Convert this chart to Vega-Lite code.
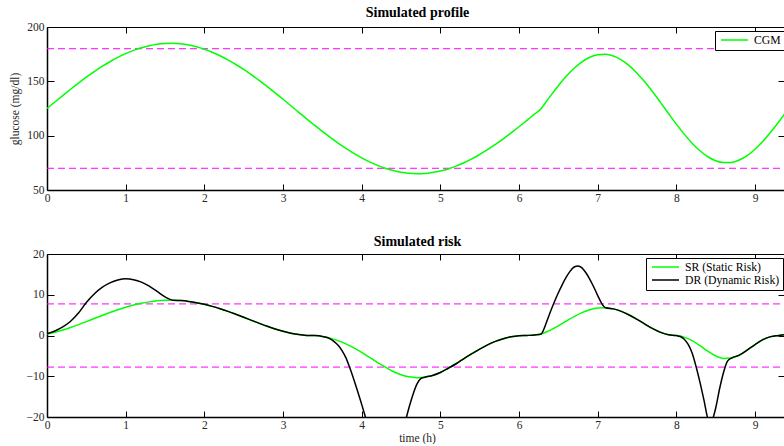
{
  "$schema": "https://vega.github.io/schema/vega-lite/v6.json",
  "background": "white",
  "padding": {"left": 9, "top": 6, "right": 0, "bottom": 0},
  "config": {
    "view": {"stroke": null},
    "font": "Liberation Serif",
    "axis": {
      "grid": false,
      "labelFont": "Liberation Serif",
      "labelFontSize": 11.5,
      "labelColor": "#262626",
      "labelFlush": false,
      "labelOverlap": false,
      "labelBound": false,
      "tickColor": "black",
      "tickWidth": 1,
      "domainColor": "black",
      "titleFont": "Liberation Serif",
      "titleFontSize": 11.5,
      "titleFontWeight": "normal",
      "titleColor": "#262626"
    },
    "legend": {
      "orient": "none",
      "title": null,
      "symbolType": "M-2.7,0H2.7",
      "symbolSize": 100,
      "symbolOffset": 10.5,
      "symbolStrokeWidth": 1.5,
      "labelFont": "Liberation Serif",
      "labelFontSize": 11.7,
      "labelColor": "black",
      "labelOffset": 13.5,
      "strokeColor": "black",
      "fillColor": "white",
      "padding": 3,
      "rowPadding": 0
    }
  },
  "datasets": {
    "cgm": [
      {"t": 0, "g": 125.0}, {"t": 0.1, "g": 131.0}, {"t": 0.2, "g": 136.9}, {"t": 0.3, "g": 142.7}, {"t": 0.4, "g": 148.4},
      {"t": 0.5, "g": 153.8}, {"t": 0.6, "g": 158.9}, {"t": 0.7, "g": 163.7}, {"t": 0.8, "g": 168.0}, {"t": 0.9, "g": 172.0},
      {"t": 1.0, "g": 175.5}, {"t": 1.1, "g": 178.5}, {"t": 1.2, "g": 180.9}, {"t": 1.3, "g": 182.8}, {"t": 1.4, "g": 184.1},
      {"t": 1.5, "g": 184.8}, {"t": 1.6, "g": 185.0}, {"t": 1.7, "g": 184.5}, {"t": 1.8, "g": 183.4}, {"t": 1.9, "g": 181.8},
      {"t": 2.0, "g": 179.6}, {"t": 2.1, "g": 176.8}, {"t": 2.2, "g": 173.5}, {"t": 2.3, "g": 169.7}, {"t": 2.4, "g": 165.5},
      {"t": 2.5, "g": 160.9}, {"t": 2.6, "g": 155.9}, {"t": 2.7, "g": 150.6}, {"t": 2.8, "g": 145.1}, {"t": 2.9, "g": 139.4},
      {"t": 3.0, "g": 133.5}, {"t": 3.1, "g": 127.5}, {"t": 3.2, "g": 121.5}, {"t": 3.3, "g": 115.5}, {"t": 3.4, "g": 109.7},
      {"t": 3.5, "g": 104.0}, {"t": 3.6, "g": 98.4}, {"t": 3.7, "g": 93.2}, {"t": 3.8, "g": 88.3}, {"t": 3.9, "g": 83.7},
      {"t": 4.0, "g": 79.6}, {"t": 4.1, "g": 75.9}, {"t": 4.2, "g": 72.7}, {"t": 4.3, "g": 70.0}, {"t": 4.4, "g": 67.9},
      {"t": 4.5, "g": 66.3}, {"t": 4.6, "g": 65.4}, {"t": 4.7, "g": 65.0}, {"t": 4.8, "g": 65.2}, {"t": 4.9, "g": 66.1},
      {"t": 5.0, "g": 67.5}, {"t": 5.1, "g": 69.4}, {"t": 5.2, "g": 72.0}, {"t": 5.3, "g": 75.1}, {"t": 5.4, "g": 78.6},
      {"t": 5.5, "g": 82.7}, {"t": 5.6, "g": 87.1}, {"t": 5.7, "g": 92.0}, {"t": 5.8, "g": 97.1}, {"t": 5.9, "g": 102.6},
      {"t": 6.0, "g": 108.2}, {"t": 6.1, "g": 114.1}, {"t": 6.2, "g": 120.0}, {"t": 6.283, "g": 125.0}, {"t": 6.3, "g": 126.7},
      {"t": 6.4, "g": 136.6}, {"t": 6.5, "g": 146.0}, {"t": 6.6, "g": 154.6}, {"t": 6.7, "g": 162.0}, {"t": 6.8, "g": 168.0},
      {"t": 6.9, "g": 172.2}, {"t": 7.0, "g": 174.5}, {"t": 7.1, "g": 174.9}, {"t": 7.2, "g": 173.3}, {"t": 7.3, "g": 169.8},
      {"t": 7.4, "g": 164.4}, {"t": 7.5, "g": 157.5}, {"t": 7.6, "g": 149.3}, {"t": 7.7, "g": 140.2}, {"t": 7.8, "g": 130.4},
      {"t": 7.9, "g": 120.4}, {"t": 8.0, "g": 110.6}, {"t": 8.1, "g": 101.4}, {"t": 8.2, "g": 93.1}, {"t": 8.3, "g": 86.1},
      {"t": 8.4, "g": 80.6}, {"t": 8.5, "g": 76.9}, {"t": 8.6, "g": 75.2}, {"t": 8.7, "g": 75.4}, {"t": 8.8, "g": 77.6},
      {"t": 8.9, "g": 81.6}, {"t": 9.0, "g": 87.5}, {"t": 9.1, "g": 94.8}, {"t": 9.2, "g": 103.3}, {"t": 9.3, "g": 112.6},
      {"t": 9.4, "g": 122.5}
    ],
    "sr": [
      {"t": 0, "r": 0.39}, {"t": 0.1, "r": 0.81}, {"t": 0.2, "r": 1.35}, {"t": 0.3, "r": 1.98}, {"t": 0.4, "r": 2.68},
      {"t": 0.5, "r": 3.41}, {"t": 0.6, "r": 4.17}, {"t": 0.7, "r": 4.91}, {"t": 0.8, "r": 5.63}, {"t": 0.9, "r": 6.31},
      {"t": 1.0, "r": 6.92}, {"t": 1.1, "r": 7.46}, {"t": 1.2, "r": 7.90}, {"t": 1.3, "r": 8.25}, {"t": 1.4, "r": 8.50},
      {"t": 1.5, "r": 8.63}, {"t": 1.6, "r": 8.66}, {"t": 1.7, "r": 8.57}, {"t": 1.8, "r": 8.37}, {"t": 1.9, "r": 8.06},
      {"t": 2.0, "r": 7.65}, {"t": 2.1, "r": 7.15}, {"t": 2.2, "r": 6.57}, {"t": 2.3, "r": 5.92}, {"t": 2.4, "r": 5.21},
      {"t": 2.5, "r": 4.48}, {"t": 2.6, "r": 3.72}, {"t": 2.7, "r": 2.98}, {"t": 2.8, "r": 2.26}, {"t": 2.9, "r": 1.60},
      {"t": 3.0, "r": 1.02}, {"t": 3.1, "r": 0.56}, {"t": 3.2, "r": 0.22}, {"t": 3.3, "r": 0.03}, {"t": 3.4, "r": -0.03},
      {"t": 3.5, "r": -0.23}, {"t": 3.6, "r": -0.64}, {"t": 3.7, "r": -1.25}, {"t": 3.8, "r": -2.06}, {"t": 3.9, "r": -3.05},
      {"t": 4.0, "r": -4.15}, {"t": 4.1, "r": -5.37}, {"t": 4.2, "r": -6.63}, {"t": 4.3, "r": -7.74}, {"t": 4.4, "r": -8.84},
      {"t": 4.5, "r": -9.65}, {"t": 4.6, "r": -10.15}, {"t": 4.7, "r": -10.35}, {"t": 4.8, "r": -10.23}, {"t": 4.9, "r": -9.80},
      {"t": 5.0, "r": -9.07}, {"t": 5.1, "r": -8.04}, {"t": 5.2, "r": -6.93}, {"t": 5.3, "r": -5.65}, {"t": 5.4, "r": -4.47},
      {"t": 5.5, "r": -3.32}, {"t": 5.6, "r": -2.30}, {"t": 5.7, "r": -1.44}, {"t": 5.8, "r": -0.78}, {"t": 5.9, "r": -0.32},
      {"t": 6.0, "r": -0.07}, {"t": 6.1, "r": 0.01}, {"t": 6.2, "r": 0.14}, {"t": 6.283, "r": 0.39}, {"t": 6.3, "r": 0.50},
      {"t": 6.4, "r": 1.32}, {"t": 6.5, "r": 2.38}, {"t": 6.6, "r": 3.53}, {"t": 6.7, "r": 4.65}, {"t": 6.8, "r": 5.62},
      {"t": 6.9, "r": 6.34}, {"t": 7.0, "r": 6.75}, {"t": 7.1, "r": 6.81}, {"t": 7.2, "r": 6.53}, {"t": 7.3, "r": 5.92},
      {"t": 7.4, "r": 5.03}, {"t": 7.5, "r": 3.96}, {"t": 7.6, "r": 2.80}, {"t": 7.7, "r": 1.69}, {"t": 7.8, "r": 0.76},
      {"t": 7.9, "r": 0.16}, {"t": 8.0, "r": -0.01}, {"t": 8.1, "r": -0.40}, {"t": 8.2, "r": -1.27}, {"t": 8.3, "r": -2.50},
      {"t": 8.4, "r": -3.85}, {"t": 8.5, "r": -5.03}, {"t": 8.6, "r": -5.62}, {"t": 8.7, "r": -5.55}, {"t": 8.8, "r": -4.83},
      {"t": 8.9, "r": -3.59}, {"t": 9.0, "r": -2.23}, {"t": 9.1, "r": -1.02}, {"t": 9.2, "r": -0.28}, {"t": 9.3, "r": 0.00},
      {"t": 9.4, "r": 0.27}
    ],
    "dr": [
      {"t": 0, "r": 0.39}, {"t": 0.1, "r": 1.1}, {"t": 0.2, "r": 2.1}, {"t": 0.3, "r": 3.5}, {"t": 0.4, "r": 5.5},
      {"t": 0.5, "r": 8.1}, {"t": 0.6, "r": 10.2}, {"t": 0.7, "r": 11.8}, {"t": 0.8, "r": 12.9}, {"t": 0.9, "r": 13.6},
      {"t": 1.0, "r": 13.9}, {"t": 1.1, "r": 13.7}, {"t": 1.2, "r": 13.1}, {"t": 1.3, "r": 12.1}, {"t": 1.4, "r": 10.8},
      {"t": 1.5, "r": 9.5}, {"t": 1.55, "r": 9.0}, {"t": 1.6, "r": 8.66}, {"t": 1.7, "r": 8.57}, {"t": 1.8, "r": 8.37},
      {"t": 1.9, "r": 8.06}, {"t": 2.0, "r": 7.65}, {"t": 2.1, "r": 7.15}, {"t": 2.2, "r": 6.57}, {"t": 2.3, "r": 5.92},
      {"t": 2.4, "r": 5.21}, {"t": 2.5, "r": 4.48}, {"t": 2.6, "r": 3.72}, {"t": 2.7, "r": 2.98}, {"t": 2.8, "r": 2.26},
      {"t": 2.9, "r": 1.60}, {"t": 3.0, "r": 1.02}, {"t": 3.1, "r": 0.56}, {"t": 3.2, "r": 0.22}, {"t": 3.3, "r": 0.03},
      {"t": 3.4, "r": -0.03}, {"t": 3.5, "r": -0.23}, {"t": 3.55, "r": -0.45}, {"t": 3.6, "r": -0.85}, {"t": 3.65, "r": -1.5},
      {"t": 3.7, "r": -2.4}, {"t": 3.75, "r": -3.7}, {"t": 3.8, "r": -5.5}, {"t": 3.85, "r": -8.0}, {"t": 3.9, "r": -10.8},
      {"t": 3.95, "r": -13.8}, {"t": 4.0, "r": -16.9}, {"t": 4.05, "r": -20.2}, {"t": 4.1, "r": -23.5}, {"t": 4.2, "r": -29.5},
      {"t": 4.3, "r": -33.0}, {"t": 4.4, "r": -32.0}, {"t": 4.5, "r": -25.5}, {"t": 4.55, "r": -21.5}, {"t": 4.6, "r": -17.8},
      {"t": 4.65, "r": -14.6}, {"t": 4.7, "r": -12.0}, {"t": 4.75, "r": -10.6}, {"t": 4.8, "r": -10.23}, {"t": 4.9, "r": -9.80},
      {"t": 5.0, "r": -9.07}, {"t": 5.1, "r": -8.04}, {"t": 5.2, "r": -6.93}, {"t": 5.3, "r": -5.65}, {"t": 5.4, "r": -4.47},
      {"t": 5.5, "r": -3.32}, {"t": 5.6, "r": -2.30}, {"t": 5.7, "r": -1.44}, {"t": 5.8, "r": -0.78}, {"t": 5.9, "r": -0.32},
      {"t": 6.0, "r": -0.07}, {"t": 6.1, "r": 0.01}, {"t": 6.2, "r": 0.14}, {"t": 6.283, "r": 0.39}, {"t": 6.3, "r": 0.9},
      {"t": 6.35, "r": 3.3}, {"t": 6.4, "r": 5.9}, {"t": 6.45, "r": 8.3}, {"t": 6.5, "r": 10.5}, {"t": 6.55, "r": 12.5},
      {"t": 6.6, "r": 14.3}, {"t": 6.65, "r": 15.8}, {"t": 6.7, "r": 16.8}, {"t": 6.75, "r": 17.05}, {"t": 6.8, "r": 16.6},
      {"t": 6.85, "r": 15.4}, {"t": 6.9, "r": 13.8}, {"t": 6.95, "r": 11.9}, {"t": 7.0, "r": 9.8}, {"t": 7.05, "r": 7.9},
      {"t": 7.1, "r": 6.81}, {"t": 7.2, "r": 6.53}, {"t": 7.3, "r": 5.92}, {"t": 7.4, "r": 5.03}, {"t": 7.5, "r": 3.96},
      {"t": 7.6, "r": 2.80}, {"t": 7.7, "r": 1.69}, {"t": 7.8, "r": 0.76}, {"t": 7.9, "r": 0.16}, {"t": 8.0, "r": -0.01},
      {"t": 8.05, "r": -0.25}, {"t": 8.1, "r": -0.9}, {"t": 8.15, "r": -2.2}, {"t": 8.2, "r": -4.3}, {"t": 8.25, "r": -7.6},
      {"t": 8.3, "r": -11.5}, {"t": 8.35, "r": -15.8}, {"t": 8.4, "r": -20.4}, {"t": 8.43, "r": -21.5}, {"t": 8.46, "r": -20.6},
      {"t": 8.5, "r": -17.8}, {"t": 8.55, "r": -13.0}, {"t": 8.6, "r": -9.0}, {"t": 8.65, "r": -6.3}, {"t": 8.7, "r": -5.55},
      {"t": 8.8, "r": -4.83}, {"t": 8.9, "r": -3.59}, {"t": 9.0, "r": -2.23}, {"t": 9.1, "r": -1.02}, {"t": 9.2, "r": -0.28},
      {"t": 9.3, "r": 0.00}, {"t": 9.4, "r": 0.27}
    ],
    "glim": [{"g": 70}, {"g": 180}],
    "rlim": [{"r": -7.75}, {"r": 7.75}]
  },
  "vconcat": [
    {
      "width": 737,
      "height": 163,
      "title": {"text": "Simulated profile", "font": "Liberation Serif", "fontSize": 14, "fontWeight": "bold", "color": "black", "baseline": "alphabetic", "offset": -10, "frame": "group", "dx": 2},
      "layer": [
        {
          "data": {"name": "glim"},
          "mark": {"type": "rule", "color": "#ff00ff", "strokeWidth": 1, "strokeDash": [7, 4], "clip": true},
          "encoding": {
            "x": {"datum": 0, "type": "quantitative", "scale": {"domain": [0, 9.368], "nice": false, "zero": false},
                  "axis": {"orient": "top", "values": [0, 1, 2, 3, 4, 5, 6, 7, 8, 9], "labels": false, "tickSize": -6, "domainWidth": 1, "title": null, "minExtent": 0, "maxExtent": 0}},
            "x2": {"datum": 10},
            "y": {"field": "g", "type": "quantitative", "scale": {"domain": [50, 200], "nice": false, "zero": false},
                  "axis": {"orient": "right", "values": [50, 100, 150, 200], "labels": false, "domain": false, "tickSize": -6, "title": null, "minExtent": 0, "maxExtent": 0}}
          }
        },
        {
          "data": {"name": "cgm"},
          "mark": {"type": "line", "strokeWidth": 1.5, "interpolate": "monotone", "clip": true},
          "encoding": {
            "x": {"field": "t", "type": "quantitative", "scale": {"domain": [0, 9.368], "nice": false, "zero": false},
                  "axis": {"orient": "bottom", "values": [0, 1, 2, 3, 4, 5, 6, 7, 8, 9], "tickSize": -6, "labelPadding": 8, "domainWidth": 1.5, "title": null}},
            "y": {"field": "g", "type": "quantitative", "scale": {"domain": [50, 200], "nice": false, "zero": false},
                  "axis": {"orient": "left", "values": [50, 100, 150, 200], "tickSize": -7, "labelPadding": 10, "domainWidth": 1.5,
                           "title": "glucose (mg/dl)", "titleX": -32, "titleY": 81.5, "titleBaseline": "middle", "titleAlign": "center", "titleAngle": 270}},
            "color": {"datum": "CGM", "type": "nominal", "scale": {"domain": ["CGM"], "range": ["#00ff00"]},
                      "legend": {"legendX": 668, "legendY": 4, "labelFont": "Liberation Serif"}}
          }
        }
      ],
      "resolve": {"axis": {"x": "independent", "y": "independent"}}
    },
    {
      "width": 737,
      "height": 163,
      "title": {"text": "Simulated risk", "font": "Liberation Serif", "fontSize": 14, "fontWeight": "bold", "color": "black", "baseline": "alphabetic", "offset": -12, "frame": "group", "dx": 2},
      "layer": [
        {
          "data": {"name": "rlim"},
          "mark": {"type": "rule", "color": "#ff00ff", "strokeWidth": 1, "strokeDash": [7, 4], "clip": true},
          "encoding": {
            "x": {"datum": 0, "type": "quantitative", "scale": {"domain": [0, 9.368], "nice": false, "zero": false},
                  "axis": {"orient": "top", "values": [0, 1, 2, 3, 4, 5, 6, 7, 8, 9], "labels": false, "tickSize": -6, "domainWidth": 1, "title": null, "minExtent": 0, "maxExtent": 0}},
            "x2": {"datum": 10},
            "y": {"field": "r", "type": "quantitative", "scale": {"domain": [-20, 20], "nice": false, "zero": false},
                  "axis": {"orient": "right", "values": [-20, -10, 0, 10, 20], "labels": false, "domain": false, "tickSize": -6, "title": null, "minExtent": 0, "maxExtent": 0}}
          }
        },
        {
          "data": {"name": "sr"},
          "mark": {"type": "line", "strokeWidth": 1.5, "interpolate": "monotone", "clip": true},
          "encoding": {
            "x": {"field": "t", "type": "quantitative", "scale": {"domain": [0, 9.368], "nice": false, "zero": false},
                  "axis": {"orient": "bottom", "values": [0, 1, 2, 3, 4, 5, 6, 7, 8, 9], "tickSize": -6, "labelPadding": 8, "domainWidth": 1.5,
                           "title": "time (h)", "titleX": 370, "titleY": 21, "titleBaseline": "middle", "titleAlign": "center"}},
            "y": {"field": "r", "type": "quantitative", "scale": {"domain": [-20, 20], "nice": false, "zero": false},
                  "axis": {"orient": "left", "values": [-20, -10, 0, 10, 20], "tickSize": -7, "labelPadding": 10, "domainWidth": 1.5, "title": null}},
            "color": {"datum": "SR (Static Risk)", "type": "nominal",
                      "scale": {"domain": ["SR (Static Risk)", "DR (Dynamic Risk)"], "range": ["#00ff00", "#000000"]},
                      "legend": {"legendX": 599, "legendY": 4, "labelFont": "Liberation Serif"}}
          }
        },
        {
          "data": {"name": "dr"},
          "mark": {"type": "line", "strokeWidth": 1.5, "interpolate": "monotone", "clip": true},
          "encoding": {
            "x": {"field": "t", "type": "quantitative", "axis": null},
            "y": {"field": "r", "type": "quantitative", "axis": null},
            "color": {"datum": "DR (Dynamic Risk)", "type": "nominal"}
          }
        }
      ],
      "resolve": {"axis": {"x": "independent", "y": "independent"}}
    }
  ],
  "spacing": 64,
  "bounds": "flush",
  "resolve": {"scale": {"color": "independent"}, "legend": {"color": "independent"}}
}
